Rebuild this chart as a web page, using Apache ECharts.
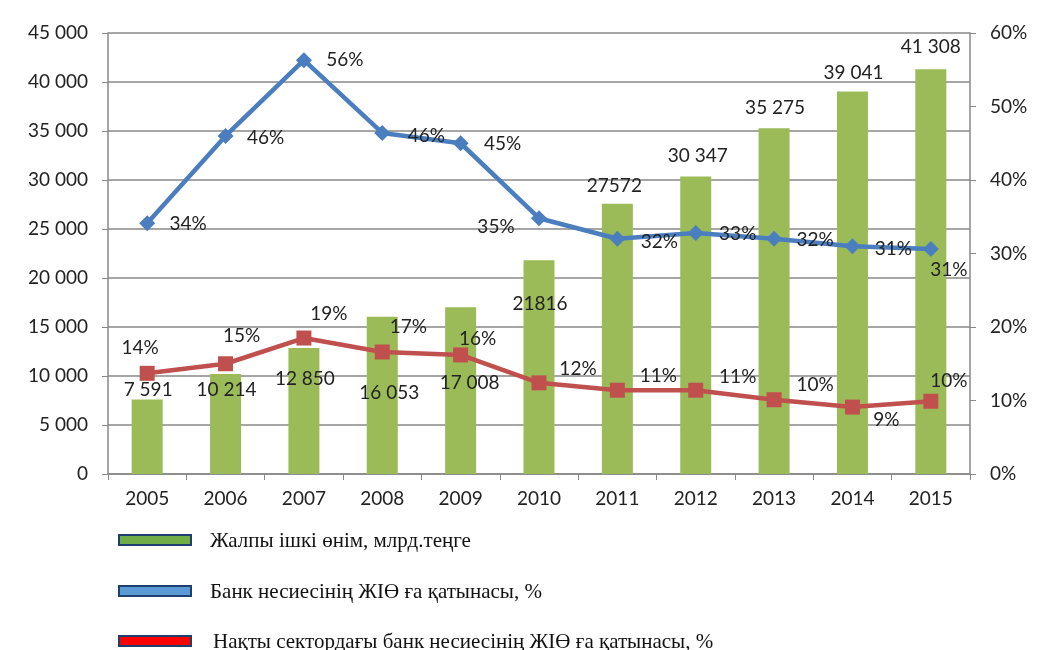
<!DOCTYPE html>
<html>
<head>
<meta charset="utf-8">
<script src="https://cdn.jsdelivr.net/npm/echarts@6/dist/echarts.min.js"></script>
<style>
  html, body { margin: 0; padding: 0; background: #fff; }
  #main { width: 1041px; height: 650px; }
</style>
</head>
<body>
<div id="main"></div>
<script>
// data
const years = ['2005', '2006', '2007', '2008', '2009', '2010', '2011', '2012', '2013', '2014', '2015']
const gdp = [7591, 10214, 12850, 16053, 17008, 21816, 27572, 30347, 35275, 39041, 41308]
const gdpLabels = ['7 591', '10 214', '12 850', '16 053', '17 008', '21816', '27572', '30 347', '35 275', '39 041', '41 308']
const creditShare = [34.1, 46, 56.3, 46.4, 45, 34.8, 32, 32.8, 32, 31, 30.6]
const realSectorShare = [13.7, 15, 18.5, 16.6, 16.2, 12.4, 11.4, 11.4, 10.1, 9.1, 9.9]
const leftTicks = ['0', '5 000', '10 000', '15 000', '20 000', '25 000', '30 000', '35 000', '40 000', '45 000']
const legendNames = [
  'Жалпы ішкі өнім, млрд.теңге',
  'Банк несиесінің ЖІӨ ға қатынасы, %',
  'Нақты сектордағы банк несиесінің ЖІӨ ға қатынасы, %'
]

// label offsets (layout only)
const barLabelOffset = [[1, 5], [1, 30], [1, 45], [7, 91], [9, 90], [1, 58], [-3, -3], [2, -6], [1, -6], [1, -4], [0, -8]]
const blueLabelOffset = [[41, 1], [40, 2], [41, 0], [44, 3], [42, 1], [-43, 9], [42, 3], [42, 1], [41, 1], [41, 3], [18, 21]]
const redLabelOffset = [[-7, -25], [16, -28], [25, -24], [26, -25], [17, -16], [39, -14], [41, -14], [42, -13], [41, -15], [34, 13], [18, -20]]

const font = 'Lato, "Open Sans", sans-serif'
const fs = 19
const pct = v => Math.round(v) + '%'

const chart = echarts.init(document.getElementById('main'))

const legendItems = []
const legendColors = ['#70AD47', '#5B9BD5', '#FF0000']
const legendY = [534, 585, 635]
legendNames.forEach((name, i) => {
  legendItems.push({
    type: 'rect',
    left: 118, top: legendY[i],
    shape: { width: 72, height: 10 },
    style: { fill: legendColors[i], stroke: '#1F3F6E', lineWidth: 2 }
  })
  legendItems.push({
    type: 'text',
    left: i === 2 ? 213 : 210, top: legendY[i] - 3,
    style: { text: name, font: '21px "Liberation Serif", "DejaVu Serif", serif', fill: '#111' }
  })
})

const option = {
  animation: false,
  grid: { left: 108, right: 71, top: 33, bottom: 176, containLabel: false },
  xAxis: {
    type: 'category',
    data: years,
    axisLine: { lineStyle: { color: '#888', width: 1.5 } },
    axisTick: { show: true, length: 6, lineStyle: { color: '#888' } },
    axisLabel: { color: '#222', fontSize: fs, fontFamily: font, margin: 15 }
  },
  yAxis: [
    {
      type: 'value', min: 0, max: 45000, interval: 5000,
      axisLine: { show: true, lineStyle: { color: '#888', width: 1.5 } },
      axisTick: { show: true, inside: false, length: 6, lineStyle: { color: '#888' } },
      axisLabel: {
        color: '#222', fontSize: fs, fontFamily: font, margin: 20,
        formatter: v => leftTicks[Math.round(v / 5000)]
      },
      splitLine: { lineStyle: { color: '#A6A6A6', width: 2 } }
    },
    {
      type: 'value', min: 0, max: 60, interval: 10,
      axisLine: { show: true, lineStyle: { color: '#888', width: 1.5 } },
      axisTick: { show: true, length: 6, lineStyle: { color: '#888' } },
      axisLabel: { color: '#222', fontSize: fs, fontFamily: font, margin: 20, formatter: '{value}%' },
      splitLine: { show: false }
    }
  ],
  series: [
    {
      name: legendNames[0],
      type: 'bar',
      barWidth: 31,
      itemStyle: { color: '#9BBB59' },
      label: {
        show: true, position: 'top', distance: 5,
        color: '#222', fontSize: fs, fontFamily: font,
        formatter: p => gdpLabels[p.dataIndex]
      },
      data: gdp.map((v, i) => ({ value: v, label: { offset: barLabelOffset[i] } })),
      z: 2
    },
    {
      name: legendNames[1],
      type: 'line',
      yAxisIndex: 1,
      symbol: 'diamond',
      symbolSize: 16,
      lineStyle: { color: '#4A7EBF', width: 4.5 },
      itemStyle: { color: '#4A7EBF' },
      label: {
        show: true, position: 'inside',
        color: '#222', fontSize: fs, fontFamily: font,
        formatter: p => pct(p.value)
      },
      data: creditShare.map((v, i) => ({ value: v, label: { offset: blueLabelOffset[i] } })),
      z: 4
    },
    {
      name: legendNames[2],
      type: 'line',
      yAxisIndex: 1,
      symbol: 'rect',
      symbolSize: 15,
      lineStyle: { color: '#C0504D', width: 4.5 },
      itemStyle: { color: '#C0504D' },
      label: {
        show: true, position: 'inside',
        color: '#222', fontSize: fs, fontFamily: font,
        formatter: p => pct(p.value)
      },
      data: realSectorShare.map((v, i) => ({ value: v, label: { offset: redLabelOffset[i] } })),
      z: 4
    }
  ],
  graphic: legendItems
}

chart.setOption(option)
</script>
</body>
</html>
